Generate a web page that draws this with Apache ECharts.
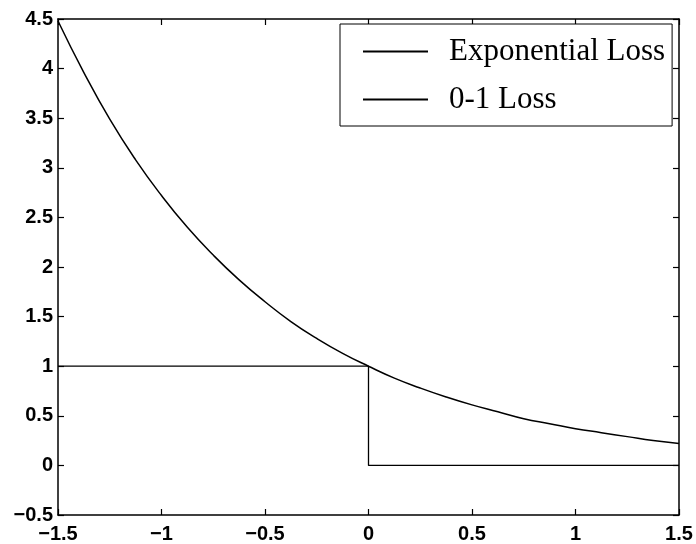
<!DOCTYPE html>
<html>
<head>
<meta charset="utf-8" />
<title>Loss functions</title>
<script src="https://cdn.jsdelivr.net/npm/echarts@6/dist/echarts.min.js"></script>
<style>
  html, body { margin: 0; padding: 0; background: #fff; }
  #chart { width: 696px; height: 544px; }
</style>
</head>
<body>
<div id="chart"></div>
<script>
// data
var xTicks = [-1.5, -1, -0.5, 0, 0.5, 1, 1.5];
var expX = [-1.5, -1.375, -1.25, -1.125, -1, -0.875, -0.75, -0.625, -0.5, -0.375, -0.25, -0.125,
            0, 0.125, 0.25, 0.375, 0.5, 0.625, 0.75, 0.875, 1, 1.125, 1.25, 1.375, 1.5];
var expY = [4.48, 3.96, 3.49, 3.08, 2.72, 2.40, 2.12, 1.87, 1.65, 1.45, 1.28, 1.13,
            1.00, 0.88, 0.78, 0.69, 0.61, 0.54, 0.47, 0.42, 0.37, 0.33, 0.29, 0.25, 0.22];
var zeroOneX = [-1.5, 0, 0, 1.5];
var zeroOneY = [1, 1, 0, 0];

function pairs(xs, ys) {
    return xs.map(function (x, i) { return [x, ys[i]]; });
}
function fmt(v) {
    return String(v).replace('-', '\u2212');
}

var tickFont = { color: '#000', fontFamily: 'Liberation Sans', fontWeight: 'bold', fontSize: 20 };
var axisLine = { show: true, onZero: false, lineStyle: { color: '#000', width: 1.5 } };
var axisTick = { show: true, inside: true, length: 6, lineStyle: { color: '#000', width: 1.2 } };

var chart = echarts.init(document.getElementById('chart'));
chart.setOption({
    animation: false,
    backgroundColor: '#fff',
    grid: { left: 58, right: 17, top: 19, bottom: 25 },
    legend: {
        orient: 'vertical',
        left: 340,
        top: 24,
        backgroundColor: '#fff',
        borderColor: '#000',
        borderWidth: 1,
        padding: [12, 7, 11, 22],
        itemWidth: 65,
        itemHeight: 20,
        itemGap: 17,
        itemStyle: { opacity: 0 },
        textStyle: { color: '#000', fontFamily: 'Liberation Serif', fontSize: 31, lineHeight: 20, padding: [0, 0, 0, 16] },
        data: ['Exponential Loss', '0-1 Loss']
    },
    xAxis: [{
        type: 'value', min: -1.5, max: 1.5, interval: 0.5,
        axisLine: axisLine, axisTick: axisTick, splitLine: { show: false },
        axisLabel: { formatter: fmt, margin: 9, textStyle: tickFont }
    }, {
        type: 'value', position: 'top', min: -1.5, max: 1.5, interval: 0.5,
        axisLine: axisLine, axisTick: axisTick, splitLine: { show: false },
        axisLabel: { show: false }
    }],
    yAxis: [{
        type: 'value', min: -0.5, max: 4.5, interval: 0.5,
        axisLine: axisLine, axisTick: axisTick, splitLine: { show: false },
        axisLabel: { formatter: fmt, margin: 5, textStyle: tickFont }
    }, {
        type: 'value', position: 'right', min: -0.5, max: 4.5, interval: 0.5,
        axisLine: axisLine, axisTick: axisTick, splitLine: { show: false },
        axisLabel: { show: false }
    }],
    series: [{
        name: 'Exponential Loss',
        type: 'line',
        smooth: true,
        symbol: 'none',
        lineStyle: { color: '#000', width: 1.5 },
        itemStyle: { color: '#000' },
        data: pairs(expX, expY)
    }, {
        name: '0-1 Loss',
        type: 'line',
        symbol: 'none',
        lineStyle: { color: '#000', width: 1.3 },
        itemStyle: { color: '#000' },
        data: pairs(zeroOneX, zeroOneY)
    }]
});
</script>
</body>
</html>
